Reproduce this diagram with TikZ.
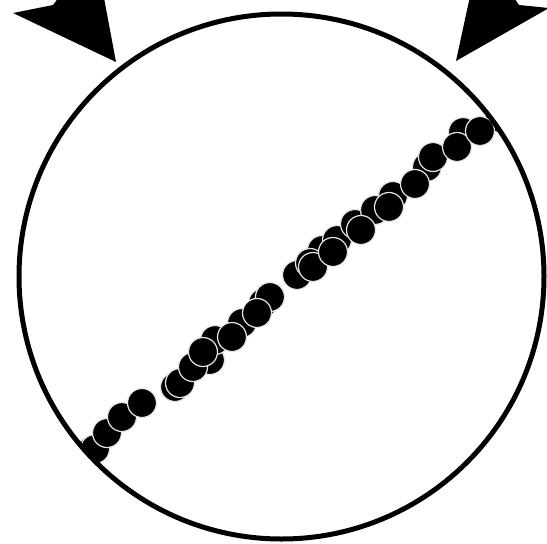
\documentclass[tikz,border=0pt]{standalone}
\begin{document}
\begin{tikzpicture}[x=1pt,y=-1pt,
  dot/.style={fill=black, draw=white!90!black, line width=1.2pt},
  ring/.style={draw=black, line width=5pt}]
\useasboundingbox (0,0) rectangle (547,544);
\clip (0,0) rectangle (547,544);
% arrowheads
\fill[black] (116,62) -- (13,13) -- (53,5) -- (95,-50) -- cycle;
\fill[black] (456,61) -- (549,8) -- (519,5) -- (480,-50) -- cycle;
% dots
\begin{scope}
\clip (281.5,276.5) circle (262.5pt);
\foreach \x/\y in {90/452, 175/387, 210/360, 215/340, 242/323, 263/303, 270/297, 297/275, 322/250, 337/240, 355/224, 375/210, 393/196, 427/167, 463/132, 500/118,
 95/449, 107/433, 122/417, 142/403, 180/383, 193/367, 203/352, 232/337, 257/313, 310/263, 313/267, 333/252, 361/230, 389/207, 415/184, 433/157, 457/147, 480/131}
  \draw[dot] (\x,\y) circle (14.5pt);
\end{scope}
% outer circle
\draw[ring] (281.5,276.5) circle (262.5pt);
\end{tikzpicture}
\end{document}
